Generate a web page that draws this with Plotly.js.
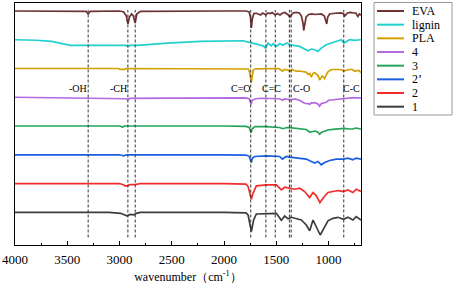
<!DOCTYPE html>
<html><head><meta charset="utf-8">
<script src="https://cdn.plot.ly/plotly-3.0.1.min.js"></script>
<style>html,body{margin:0;padding:0;background:#fff}</style>
</head><body><div id="chart" style="width:455px;height:284px"></div>
<script>
// ---- data (relative transmittance, 0 = local baseline) ----
var seriesNames = ['EVA', 'lignin', 'PLA', '4', '3', '2\u2019', '2', '1'];

var wnEVA = [4000,3400,3320,3300,3280,3000,2960,2935,2920,2905,2885,2868,2850,2835,2800,2000,1790,1760,1748,1739,1730,1715,1690,1650,1630,1600,1580,1558,1540,1510,1490,1465,1440,1420,1385,1372,1360,1340,1310,1280,1260,1245,1238,1228,1215,1190,1160,1130,1100,1070,1040,1025,1018,1008,990,960,920,880,855,845,820,790,760,740,720,705,690];
var tEVA  = [0,0,-0.3,-3,-0.3,0,-1,-5,-13,-6,-3,-5,-12,-3,-0.3,0,0,-1,-6,-17,-8,-2.5,-2.3,-4,-2,-4,-2,-2.5,-1.5,-4,-2.5,-4,-2,-1.5,-4,-6,-4,-2,-1.5,-2,-5,-12,-19.5,-15,-6,-3.5,-3,-3.5,-3,-3,-5,-11,-13,-6,-3,-2.5,-2,-2,-3,-5,-2,-1.5,-2,-2,-5.5,-3,-4];

var wnLignin = [4000,3800,3650,3550,3470,3000,2940,2920,2900,2830,2700,2540,2230,1946,1820,1755,1700,1650,1628,1602,1580,1548,1532,1500,1468,1437,1398,1373,1325,1277,1230,1198,1166,1134,1102,1070,1023,975,927,879,854,832,800,752,690];
var tLignin  = [0,-0.5,-1.7,-4,-5.7,-5.7,-5.7,-6.7,-5.7,-5.7,-4.5,-3.3,-1.7,-0.7,-1,-2.7,-4,-5.3,-6,-8.3,-3.3,-6,-4,-6.7,-4,-5.3,-3.3,-5,-6,-6.7,-9.3,-11,-9.3,-10,-11.7,-8.3,-5,-3.3,-1.3,0,-3.3,-1.7,0,-0.7,0];

var wnPLA = [4000,3010,2995,2950,2935,1800,1770,1755,1745,1739,1732,1720,1700,1480,1455,1442,1420,1390,1372,1350,1310,1280,1230,1210,1197,1180,1165,1150,1134,1115,1100,1086,1070,1060,1045,1038,1020,1006,980,959,900,870,855,840,800,770,752,730,710,690];
var tPLA  = [0,0,-0.8,-0.8,0,0,-0.5,-4,-12,-14.3,-8,-1.5,-0.3,0,-1.5,-2.7,-1,-1.5,-2.7,-1,-2.7,-2.5,-3.3,-4,-6,-5,-8.7,-5,-4,-6,-7,-11.5,-8,-7.5,-9,-10,-6,-3.3,-1.5,-1,-1,-1.5,-2.7,-2,-1,-1,-2.7,-2,-2,-4.3];

var wn4 = [4000,3500,3000,2940,2920,2900,2500,2000,1790,1760,1748,1742,1730,1707,1650,1600,1590,1532,1470,1440,1420,1390,1357,1325,1277,1246,1230,1200,1182,1166,1125,1100,1086,1070,1054,1023,1000,975,927,880,848,800,760,736,700,690];
var t4  = [0,-0.5,-1,-1.5,-2.3,-1.2,-0.8,-0.5,-0.7,-1.5,-5,-7.3,-3,-1.7,-1,-1.3,-0.7,-1,-1.5,-3,-1.7,-2,-2.5,-1.7,-3,-5,-6,-6.3,-7,-5.7,-5.7,-7,-9,-6.3,-5.7,-5,-3,-2.7,-1.7,-1.3,-1,-0.7,-0.3,-0.7,-1,-0.7];

var wn3 = [4000,3000,2970,2950,2000,1790,1760,1748,1742,1732,1707,1600,1500,1470,1437,1400,1373,1309,1250,1214,1182,1150,1125,1100,1086,1070,1040,1007,960,895,850,800,770,736,710,690];
var t3  = [0,0,-1,0,0,-0.3,-1.3,-4.5,-6.7,-3,-0.7,-0.7,-1,-1.5,-2.7,-1.5,-1.7,-2.7,-3,-3.5,-6,-5,-5,-6.5,-8.3,-6.5,-5,-4,-3.3,-3,-2.3,-3,-3,-2,-3,-3];

var wn2p = [4000,3000,2960,2930,2000,1790,1760,1748,1739,1730,1707,1595,1468,1442,1404,1372,1277,1213,1165,1134,1102,1070,1038,990,927,857,815,767,736,690];
var t2p  = [0,0,-1,0,0,-0.3,-1.5,-5,-7.7,-3.5,-1.7,-1,-1.7,-4.3,-1.7,-2.3,-3.3,-4.3,-6.7,-8.3,-6.7,-10,-7.7,-5.7,-4.3,-4.3,-3.3,-5,-3.3,-4.3];

var wn2 = [4000,3000,2960,2948,2920,2900,2850,2800,2000,1790,1770,1750,1739,1723,1691,1595,1500,1452,1420,1372,1325,1277,1229,1181,1149,1118,1083,1048,1006,958,911,857,815,767,736,690];
var t2  = [0,0,-1.5,-2.3,-2.3,-1,-1,0,0,-0.5,-3,-10,-15.7,-9.7,-2.3,-1.3,-1.3,-6.3,-3.7,-4.7,-5.7,-4.7,-8,-14,-9,-12,-19,-14,-9,-8,-7,-8,-6.5,-9,-5.7,-8];

var wn1 = [4000,3100,2990,2960,2925,2900,2860,2840,2800,2000,1790,1770,1750,1739,1717,1691,1500,1452,1420,1388,1356,1309,1261,1213,1181,1149,1118,1080,1045,1006,958,911,857,815,767,736,690];
var t1  = [0,0,-1,-2,-3.7,-2,-2.5,-1,0,0,-0.5,-2.7,-12,-19.3,-7.7,-1.7,-1,-8,-3.7,-6.5,-5,-6.5,-7.7,-12.7,-18.5,-7.7,-14.3,-22.7,-16,-8.5,-6,-5,-7,-5,-7.7,-4.3,-7.7];

var bandWn = [3300, 2920, 2850, 1745, 1600, 1510, 1375, 1358, 855];
var bandLabels = ['-OH', '-CH', 'C=O', 'C=C', 'C-O', 'C-C'];
var bandLabelWn = [3397, 3012, 1840, 1545, 1263, 785];

// ---- styling ----
var colors = ['#6d3232', '#22cfcf', '#d4a000', '#b36ae2', '#22a55a', '#1a5fe0', '#f52a2a', '#3c3c3c'];
var FONT = 'Liberation Serif, Times New Roman, serif';
var wnSets = [wnEVA, wnLignin, wnPLA, wn4, wn3, wn2p, wn2, wn1];
var tSets = [tEVA, tLignin, tPLA, t4, t3, t2p, t2, t1];

// plot geometry (pixels) used for paper-coordinate conversions of the legend box
var W = 455, H = 284, ML = 15, MR = 94, MT = 3, MB = 39;
var PW = W - ML - MR, PH = H - MT - MB;
function px2paperX(px) { return (px - ML) / PW; }
function px2paperY(py) { return (H - MB - py) / PH; }

// vertical stacking: bottom spectrum baseline and spacing (y units)
var baseY = 32.7, step = 28.76;

var traces = [];
for (var i = seriesNames.length - 1; i >= 0; i--) {
  var k = seriesNames.length - 1 - i;
  var off = baseY + k * step;
  traces.push({
    type: 'scatter', mode: 'lines', name: seriesNames[i],
    x: wnSets[i], y: tSets[i].map(function (v) { return v + off; }),
    line: { color: colors[i], width: 1.7 },
    showlegend: false, hoverinfo: 'skip'
  });
}

var shapes = [];
bandWn.forEach(function (w) {
  shapes.push({ type: 'line', xref: 'x', yref: 'y', x0: w, x1: w, y0: 7.5, y1: 235,
    line: { color: '#333', width: 1, dash: '3px,2px' } });
});

var annotations = [];
bandLabels.forEach(function (lab, j) {
  annotations.push({ x: bandLabelWn[j], y: 157, xref: 'x', yref: 'y', text: lab, showarrow: false,
    font: { family: FONT, size: 10, color: '#000' }, xanchor: 'center', yanchor: 'middle' });
});

// legend (manual, compact rows as in the reference)
shapes.push({ type: 'rect', xref: 'paper', yref: 'paper',
  x0: px2paperX(374), x1: px2paperX(452), y0: px2paperY(115), y1: px2paperY(2.5),
  line: { color: '#999', width: 1 }, fillcolor: 'rgba(0,0,0,0)' });
seriesNames.forEach(function (nm, i) {
  var ry = 11 + i * 13.67;
  shapes.push({ type: 'line', xref: 'paper', yref: 'paper',
    x0: px2paperX(377), x1: px2paperX(404), y0: px2paperY(ry), y1: px2paperY(ry),
    line: { color: colors[i], width: 2 } });
  annotations.push({ xref: 'paper', yref: 'paper', x: px2paperX(410), y: px2paperY(ry),
    text: nm, showarrow: false, xanchor: 'left', yanchor: 'middle',
    font: { family: FONT, size: 12, color: '#000' } });
});

var layout = {
  width: W, height: H,
  margin: { l: ML, r: MR, t: MT, b: MB, pad: 0 },
  paper_bgcolor: '#fff', plot_bgcolor: '#fff',
  showlegend: false,
  font: { family: FONT, color: '#000' },
  xaxis: {
    range: [4000, 690], autorange: false,
    tick0: 0, dtick: 500, ticks: 'inside', ticklen: 4.5, tickwidth: 1, tickcolor: '#000',
    minor: { dtick: 250, ticks: 'inside', ticklen: 2.5, tickwidth: 1, tickcolor: '#000' },
    showline: true, mirror: true, linecolor: '#000', linewidth: 1,
    showgrid: false, zeroline: false,
    tickfont: { family: FONT, size: 13, color: '#000' },
    ticklabelstandoff: 2,
    title: { text: 'wavenumber\uff08cm<sup>-1</sup>\uff09', font: { family: FONT, size: 12, color: '#000' }, standoff: 7 }
  },
  yaxis: {
    range: [0, 242], autorange: false,
    showline: true, mirror: true, linecolor: '#000', linewidth: 1,
    showticklabels: false, ticks: '', showgrid: false, zeroline: false
  },
  shapes: shapes,
  annotations: annotations
};

Plotly.newPlot('chart', traces, layout, { displayModeBar: false, staticPlot: true });
</script></body></html>
